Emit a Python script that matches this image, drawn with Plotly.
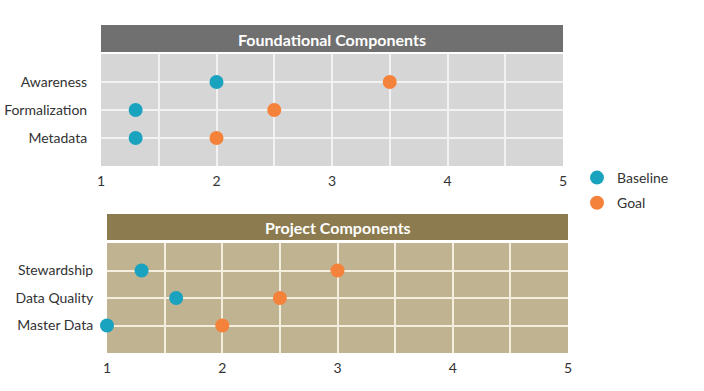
import plotly.graph_objects as go

top_title = "Foundational Components"
bottom_title = "Project Components"
top_categories = ["Metadata", "Formalization", "Awareness"]
top_baseline = [1.3, 1.3, 2.0]
top_goal = [2.0, 2.5, 3.5]
bottom_categories = ["Master Data", "Data Quality", "Stewardship"]
bottom_baseline = [1.0, 1.6, 1.3]
bottom_goal = [2.0, 2.5, 3.0]
x_ticks = [1, 1.5, 2, 2.5, 3, 3.5, 4, 4.5, 5]
x_labels = ["1", "", "2", "", "3", "", "4", "", "5"]

TEAL = "#1aa3bf"
ORANGE = "#f5823a"
FONT = "Lato, 'Open Sans', sans-serif"
W, H = 704, 391

def px(v):
    return v / W

def py(v):
    return 1 - v / H

fig = go.Figure()
pos = [1, 2, 3]
fig.add_trace(go.Scatter(x=top_baseline, y=pos, mode="markers", name="Baseline",
                         marker=dict(color=TEAL, size=14), xaxis="x", yaxis="y", legendgroup="b"))
fig.add_trace(go.Scatter(x=top_goal, y=pos, mode="markers", name="Goal",
                         marker=dict(color=ORANGE, size=14), xaxis="x", yaxis="y", legendgroup="g"))
fig.add_trace(go.Scatter(x=bottom_baseline, y=pos, mode="markers", name="Baseline",
                         marker=dict(color=TEAL, size=14), xaxis="x2", yaxis="y2",
                         showlegend=False, legendgroup="b", cliponaxis=False))
fig.add_trace(go.Scatter(x=bottom_goal, y=pos, mode="markers", name="Goal",
                         marker=dict(color=ORANGE, size=14), xaxis="x2", yaxis="y2",
                         showlegend=False, legendgroup="g", cliponaxis=False))

xcommon = dict(range=[1, 5], tickvals=x_ticks, ticktext=x_labels, showline=False,
               zeroline=False, ticks="outside", ticklen=2, tickcolor="rgba(0,0,0,0)",
               automargin=False,
               tickfont=dict(size=14, color="#333333", family=FONT), fixedrange=True)
ycommon = dict(range=[0, 4], tickvals=pos, showline=False, zeroline=False,
               ticks="outside", ticklen=10, tickcolor="rgba(0,0,0,0)",
               automargin=False,
               tickfont=dict(size=14, color="#333333", family=FONT), fixedrange=True)

# plot areas in pixels
t_x0, t_x1, t_y0, t_y1 = 101, 563, 54, 166
b_x0, b_x1, b_y0, b_y1 = 107, 568, 243, 353

fig.update_layout(
    width=W, height=H,
    margin=dict(l=0, r=0, t=0, b=0, autoexpand=False),
    paper_bgcolor="white",
    plot_bgcolor="rgba(0,0,0,0)",
    font=dict(family=FONT),
    xaxis=dict(domain=[px(t_x0), px(t_x1)], anchor="y", gridcolor="#f2f2f2", gridwidth=1.5, **xcommon),
    yaxis=dict(domain=[py(t_y1), py(t_y0)], anchor="x", ticktext=top_categories,
               gridcolor="#f2f2f2", gridwidth=1.5, **ycommon),
    xaxis2=dict(domain=[px(b_x0), px(b_x1)], anchor="y2", gridcolor="#f3eedd", gridwidth=1.5, **xcommon),
    yaxis2=dict(domain=[py(b_y1), py(b_y0)], anchor="x2", ticktext=bottom_categories,
                gridcolor="#f3eedd", gridwidth=1.5, **ycommon),
    legend=dict(x=px(577), y=py(162), xanchor="left", yanchor="top",
                font=dict(size=14, color="#333333", family=FONT),
                bgcolor="rgba(0,0,0,0)", tracegroupgap=4),
    shapes=[
        dict(type="rect", xref="paper", yref="paper", x0=px(t_x0), x1=px(t_x1),
             y0=py(t_y1), y1=py(t_y0), fillcolor="#d6d6d6", line=dict(width=0), layer="below"),
        dict(type="rect", xref="paper", yref="paper", x0=px(t_x0), x1=px(t_x1),
             y0=py(52), y1=py(25), fillcolor="#707070", line=dict(width=0), layer="below"),
        dict(type="rect", xref="paper", yref="paper", x0=px(b_x0), x1=px(b_x1),
             y0=py(b_y1), y1=py(b_y0), fillcolor="#c0b391", line=dict(width=0), layer="below"),
        dict(type="rect", xref="paper", yref="paper", x0=px(b_x0), x1=px(b_x1),
             y0=py(240), y1=py(214), fillcolor="#8b7b4f", line=dict(width=0), layer="below"),
    ],
    annotations=[
        dict(text="<b>" + top_title + "</b>", xref="paper", yref="paper",
             x=px((t_x0 + t_x1) / 2), y=py(39), xanchor="center", yanchor="middle",
             showarrow=False, font=dict(size=16, color="white", family=FONT)),
        dict(text="<b>" + bottom_title + "</b>", xref="paper", yref="paper",
             x=px((b_x0 + b_x1) / 2), y=py(227), xanchor="center", yanchor="middle",
             showarrow=False, font=dict(size=16, color="white", family=FONT)),
    ],
)

fig.write_html("out.html", config={"displayModeBar": False},
               post_script="document.body.style.margin='0';document.body.style.overflow='hidden';")
